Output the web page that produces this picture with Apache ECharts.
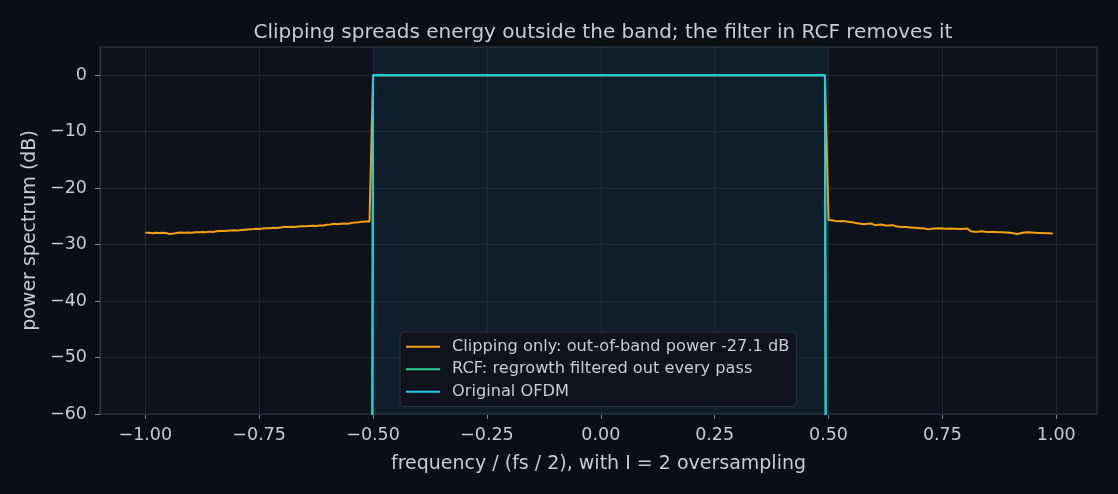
<!DOCTYPE html>
<html>
<head>
<meta charset="utf-8">
<script src="https://cdn.jsdelivr.net/npm/echarts@6/dist/echarts.min.js"></script>
<style>
html,body{margin:0;padding:0;background:#0a0e15;}
#c{width:1118px;height:494px;}
</style>
</head>
<body>
<div id="c"></div>
<script>
// ---- data ----
const freqStep = 1 / 128;
const leftStart = -1.0;      // first out-of-band bin (left)
const rightStart = 0.5;      // first out-of-band bin (right)
const bandStart = -0.5;      // first in-band bin
const bandEnd = 0.4921875;   // last in-band bin

const clipLeft = [
  -27.9, -27.9, -28.0, -27.9, -27.95, -27.9, -28.0, -28.1, -28.05, -27.9,
  -27.85, -27.9, -27.85, -27.9, -27.8, -27.8, -27.75, -27.8, -27.7, -27.75,
  -27.65, -27.6, -27.6, -27.55, -27.5, -27.45, -27.5, -27.4, -27.35, -27.3,
  -27.3, -27.2, -27.25, -27.15, -27.1, -27.1, -27.0, -27.05, -26.95, -26.9,
  -26.9, -26.85, -26.9, -26.8, -26.75, -26.75, -26.7, -26.65, -26.7, -26.6,
  -26.6, -26.5, -26.45, -26.3, -26.4, -26.3, -26.25, -26.3, -26.15, -26.1,
  -26.05, -25.95, -25.9, -25.9
];
const clipRight = [
  -25.65, -25.7, -25.8, -25.85, -25.8, -25.9, -26.0, -26.1, -26.2, -26.3,
  -26.4, -26.3, -26.25, -26.55, -26.5, -26.45, -26.6, -26.6, -26.55, -26.75,
  -26.85, -26.9, -26.9, -26.95, -27.0, -27.05, -27.1, -27.15, -27.3, -27.2,
  -27.15, -27.1, -27.15, -27.2, -27.15, -27.2, -27.2, -27.25, -27.2, -27.15,
  -27.65, -27.7, -27.7, -27.65, -27.7, -27.75, -27.7, -27.75, -27.8, -27.8,
  -27.85, -27.9, -28.0, -28.1, -28.0, -27.85, -27.8, -27.85, -27.9, -27.95,
  -27.95, -28.0, -28.0, -28.05
];
const clipInBand = 0.0;
const rcfInBand = 0.0;
const origInBand = 0.0;
const outOfBandFloor = -300;   // filtered / original: essentially zero power outside band

const xTicks = [-1.0, -0.75, -0.5, -0.25, 0.0, 0.25, 0.5, 0.75, 1.0];
const yTicks = [-60, -50, -40, -30, -20, -10, 0];
const bandRange = [-0.5, 0.5];

const names = [
  'Clipping only: out-of-band power -27.1 dB',
  'RCF: regrowth filtered out every pass',
  'Original OFDM'
];

// ---- build series data ----
const clipData = [];
clipLeft.forEach((v, i) => clipData.push([leftStart + i * freqStep, v]));
clipData.push([bandStart, clipInBand]);
clipData.push([bandEnd, clipInBand]);
clipRight.forEach((v, i) => clipData.push([rightStart + i * freqStep, v]));

function bandOnly(inBand) {
  return [
    [bandStart - freqStep, outOfBandFloor],
    [bandStart, inBand],
    [bandEnd, inBand],
    [bandEnd + freqStep, outOfBandFloor]
  ];
}

const gridColor = '#202935';
const spineColor = '#343d4a';
const textColor = '#c5ccd6';
const FONT = 'DejaVu Sans';
const fmt = v => Number(v).toFixed(2).replace('-', '\u2212');
const fmtY = v => String(v).replace('-', '\u2212');

const chart = echarts.init(document.getElementById('c'));
chart.setOption({
  animation: false,
  backgroundColor: '#0a0e15',
  textStyle: { fontFamily: FONT },
  title: {
    text: 'Clipping spreads energy outside the band; the filter in RCF removes it',
    left: 598, top: 18, textAlign: 'center',
    textStyle: { color: textColor, fontSize: 20, fontWeight: 'normal', fontFamily: FONT }
  },
  grid: {
    left: 100, right: 21, top: 47, bottom: 80,
    show: true, backgroundColor: '#0d121b', borderColor: spineColor, borderWidth: 1
  },
  legend: {
    left: 400, top: 332, orient: 'vertical', z: 20,
    data: names, icon: 'rect', itemWidth: 34, itemHeight: 2, itemGap: 5,
    padding: [6, 7, 6, 6],
    backgroundColor: '#0e131c', borderColor: '#2c3542', borderWidth: 1, borderRadius: 4,
    textStyle: { color: textColor, fontSize: 16.2, fontFamily: FONT, lineHeight: 17.5, padding: [0, 0, 0, 7] }
  },
  xAxis: {
    type: 'value', min: -1.0995, max: 1.0895,
    name: 'frequency / (fs / 2), with I = 2 oversampling',
    nameLocation: 'middle', nameGap: 41,
    nameTextStyle: { color: textColor, fontSize: 19, fontFamily: FONT },
    axisLine: { show: true, onZero: false, lineStyle: { color: spineColor } },
    axisTick: { show: true, length: 5, customValues: xTicks, lineStyle: { color: '#7f8996' } },
    axisLabel: { customValues: xTicks, formatter: fmt, color: textColor, fontSize: 17.5, margin: 12, fontFamily: FONT },
    splitLine: { show: false }
  },
  yAxis: {
    type: 'value', min: -60, max: 5,
    name: 'power spectrum (dB)',
    nameLocation: 'middle', nameGap: 60, nameRotate: 90,
    nameTextStyle: { color: textColor, fontSize: 19, fontFamily: FONT },
    axisLine: { show: true, onZero: false, lineStyle: { color: spineColor } },
    axisTick: { show: true, length: 5, customValues: yTicks, lineStyle: { color: '#7f8996' } },
    axisLabel: { customValues: yTicks, formatter: fmtY, color: textColor, fontSize: 17.5, margin: 13, fontFamily: FONT },
    splitLine: { show: false }
  },
  series: [
    {
      name: '__grid', type: 'line', data: [], z: 1, silent: true,
      markArea: {
        silent: true, z: 1,
        itemStyle: { color: 'rgba(23,79,104,0.2)' },
        data: [[{ xAxis: bandRange[0] }, { xAxis: bandRange[1] }]]
      },
      markLine: {
        silent: true, z: 1, symbol: 'none', label: { show: false },
        lineStyle: { color: gridColor, width: 1, type: 'solid' },
        data: xTicks.map(v => ({ xAxis: v })).concat(yTicks.map(v => ({ yAxis: v })))
      }
    },
    {
      name: names[0], type: 'line', data: clipData, z: 3,
      showSymbol: false, symbol: 'none', lineStyle: { color: '#f5a00f', width: 2 }, itemStyle: { color: '#f5a00f' }
    },
    {
      name: names[1], type: 'line', data: bandOnly(rcfInBand), z: 4,
      showSymbol: false, symbol: 'none', lineStyle: { color: '#34d399', width: 2 }, itemStyle: { color: '#34d399' }
    },
    {
      name: names[2], type: 'line', data: bandOnly(origInBand), z: 5,
      showSymbol: false, symbol: 'none', lineStyle: { color: '#22cde0', width: 2 }, itemStyle: { color: '#22cde0' }
    }
  ]
});
</script>
</body>
</html>
